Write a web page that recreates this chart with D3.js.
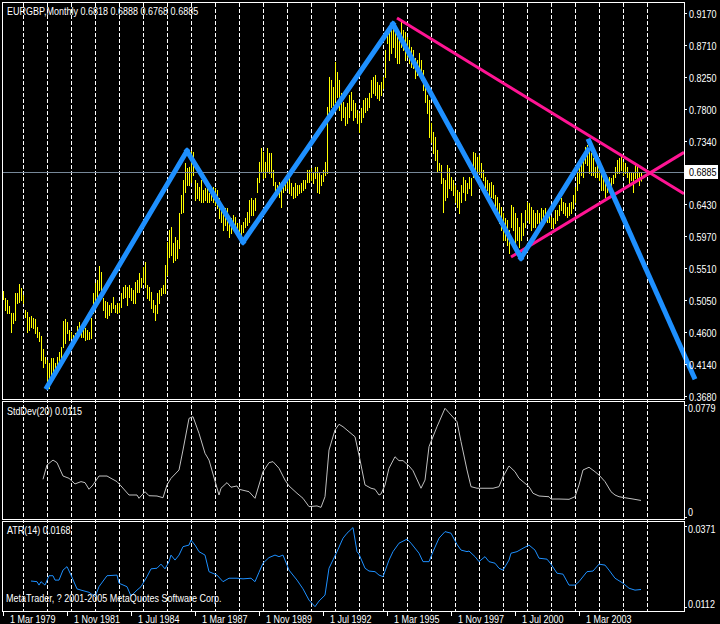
<!DOCTYPE html>
<html><head><meta charset="utf-8">
<script src="https://cdn.jsdelivr.net/npm/d3@7"></script>
<style>html,body{margin:0;padding:0;background:#000;overflow:hidden}svg{display:block}</style>
</head><body><svg id="c" width="720" height="624"></svg>
<script>
// ---------------- DATA ----------------
const symbolTitle = "EURGBP,Monthly";
const lastOHLC = [0.6818, 0.6888, 0.6768, 0.6885];
// monthly bars, starting Mar 1979 (index 0)
const highs = [
.5185,.5085,.5056,.4970,.4870,.4870,.5156,.5156,.5285,.5228,
.5128,.4913,.4884,.4812,.4827,.4798,.4784,.4669,.4597,.4540,
.4354,.4239,.4196,.4153,.4224,.4224,.4153,.4239,.4311,.4382,
.4755,.4784,.4741,.4626,.4597,.4554,.4583,.4683,.4741,.4669,
.4626,.4655,.4626,.4597,.4798,.5156,.5300,.5343,.5543,.5457,
.5085,.5042,.5027,.4984,.5013,.5099,.4984,.5013,.5013,.5156,
.5242,.5271,.5242,.5271,.5228,.5199,.5314,.5343,.5443,.5371,
.5529,.5601,.5271,.5242,.5171,.5056,.4984,.5156,.5199,.5228,
.5271,.5558,.5887,.6059,.6102,.5873,.5959,.5916,.6303,.6561,
.6776,.7020,.6948,.6963,.7192,.7178,.6776,.6733,.6676,.6776,
.6633,.6661,.6661,.6590,.6661,.6676,.6661,.6633,.6518,.6375,
.6346,.6375,.6375,.6246,.6231,.6274,.6246,.6160,.6160,.6131,
.6174,.6231,.6317,.6489,.6518,.6489,.6518,.6805,.7035,.7235,
.7178,.7035,.7235,.7163,.7163,.6920,.6747,.6704,.6747,.6747,
.6776,.6805,.6877,.6805,.6733,.6676,.6733,.6704,.6704,.6733,
.6776,.6776,.6920,.6920,.6948,.6877,.6963,.6963,.6877,.6848,
.6920,.7035,.7823,.8253,.8210,.8109,.8468,.8324,.8210,.8024,
.7895,.7823,.7880,.7995,.8038,.7923,.7880,.7780,.7737,.7809,
.7923,.7952,.7952,.8024,.8210,.8253,.8281,.8181,.8138,.8181,
.8253,.8640,.8955,.8926,.8969,.9027,.8926,.8826,.8883,.9041,
.8926,.8898,.8826,.8783,.8683,.8640,.8525,.8496,.8597,.8496,
.8353,.8109,.7995,.7923,.7594,.7465,.7393,.7207,.7020,.6991,
.6805,.6776,.6991,.6948,.6819,.6776,.6704,.6633,.6604,.6704,
.6819,.6776,.6733,.6819,.6805,.7178,.7163,.7106,.7135,.7020,
.6920,.6819,.6776,.6733,.6747,.6704,.6561,.6532,.6446,.6389,
.6303,.6231,.6203,.6059,.6418,.6389,.6303,.6231,.6102,.6303,
.6160,.6346,.6461,.6446,.6389,.6346,.6303,.6346,.6303,.6375,
.6346,.6375,.6274,.6317,.6246,.6231,.6346,.6346,.6418,.6518,
.6461,.6446,.6389,.6446,.6461,.6561,.6676,.6877,.6963,.7106,
.7092,.7250,.7278,.7207,.7163,.7092,.6963,.7035,.6963,.6877,
.6819,.6819,.6776,.6819,.6805,.6848,.6963,.7063,.7092,.7106,
.7035,.7020,.6963,.6891,.6891,.6877,.6991,.6963,.6877,.6888];
const lows = [
.5070,.4913,.4870,.4870,.4597,.4726,.4769,.5013,.5027,.5056,
.5013,.4812,.4597,.4626,.4669,.4655,.4583,.4526,.4468,.4196,
.4095,.4153,.3866,.3794,.3952,.4024,.4052,.4095,.4153,.4196,
.4382,.4440,.4583,.4483,.4511,.4440,.4483,.4526,.4583,.4526,
.4526,.4483,.4497,.4497,.4511,.4870,.4984,.5056,.5199,.5156,
.4913,.4812,.4798,.4841,.4884,.4941,.4884,.4870,.4884,.4956,
.5085,.5099,.4984,.5099,.5056,.5013,.5013,.5171,.5171,.5242,
.5314,.5242,.5085,.5056,.4941,.4884,.4769,.4870,.5013,.5128,
.5156,.5156,.5414,.5672,.5701,.5601,.5629,.5658,.5801,.6303,
.6317,.6604,.6704,.6704,.6747,.6848,.6489,.6518,.6489,.6461,
.6461,.6489,.6461,.6461,.6489,.6461,.6418,.6375,.6231,.6174,
.6059,.6131,.6059,.5959,.6016,.6059,.6102,.6031,.5959,.5988,
.6031,.6102,.6131,.6174,.6274,.6274,.6346,.6604,.6747,.6891,
.6805,.6819,.6891,.6877,.6819,.6704,.6590,.6561,.6532,.6389,
.6604,.6633,.6661,.6590,.6561,.6518,.6532,.6561,.6590,.6604,
.6633,.6661,.6747,.6747,.6776,.6733,.6805,.6604,.6590,.6704,
.6762,.6848,.6877,.7679,.7823,.7852,.7895,.7966,.7780,.7636,
.7679,.7565,.7594,.7679,.7780,.7636,.7679,.7594,.7465,.7608,
.7679,.7751,.7780,.7823,.7966,.8024,.7995,.7952,.7923,.7995,
.8095,.8253,.8740,.8496,.8597,.8683,.8539,.8453,.8453,.8683,
.8640,.8496,.8539,.8453,.8396,.8382,.8238,.8281,.8310,.8210,
.8066,.7895,.7737,.7393,.7321,.7163,.7063,.6891,.6920,.6733,
.6317,.6489,.6532,.6661,.6633,.6561,.6461,.6389,.6303,.6461,
.6604,.6489,.6590,.6661,.6561,.6819,.6891,.6848,.6877,.6819,
.6776,.6604,.6633,.6561,.6532,.6518,.6346,.6303,.6160,.6059,
.5916,.5916,.5844,.5730,.6102,.6059,.5873,.5916,.5816,.5916,
.5988,.6102,.6203,.6160,.6059,.6102,.6102,.6160,.6131,.6160,
.6231,.6246,.6174,.6174,.6102,.6088,.6160,.6203,.6274,.6346,
.6303,.6274,.6246,.6274,.6303,.6375,.6461,.6633,.6733,.6848,
.6819,.7020,.6991,.6877,.6848,.6848,.6819,.6819,.6776,.6633,
.6633,.6532,.6604,.6633,.6676,.6733,.6819,.6877,.6877,.6920,
.6848,.6877,.6819,.6733,.6776,.6604,.6805,.6776,.6704,.6768];

const priceTicks = [0.9170,0.8710,0.8250,0.7800,0.7340,0.6430,0.5970,0.5510,0.5050,0.4600,0.4140,0.3680];
const priceMin = 0.3680, priceMax = 0.9170;

const stdMonths = [20,22,25,27,30,33,36,39,41,43,45,48,52,54,57,59,63,67,68,71,73,77,80,82,84,88,90,93,95,98,101,103,108,109,112,114,117,118,123,126,130,133,135,138,141,143,147,150,153,157,159,161,163,166,168,170,173,176,178,181,184,186,188,189,191,193,196,198,200,203,205,209,211,213,217,221,223,227,229,232,234,237,240,245,248,250,253,256,258,261,263,265,268,273,274,278,283,286,288,290,293,296,298,301,304,306,308,311,315,319];
const stdValues = [.0262,.0362,.0396,.0378,.0285,.0269,.0230,.0246,.0239,.0193,.0223,.0285,.0285,.0269,.0246,.0216,.0153,.0153,.0130,.0176,.0148,.0146,.0134,.0223,.0269,.0327,.0466,.0686,.0698,.0582,.0443,.0396,.0153,.0200,.0239,.0207,.0216,.0193,.0176,.0130,.0315,.0378,.0385,.0339,.0257,.0216,.0165,.0130,.0072,.0077,.0067,.0141,.0466,.0605,.0645,.0628,.0593,.0558,.0431,.0223,.0200,.0193,.0153,.0160,.0223,.0339,.0419,.0392,.0392,.0355,.0322,.0200,.0257,.0489,.0628,.0756,.0725,.0663,.0524,.0327,.0211,.0200,.0200,.0200,.0211,.0280,.0355,.0315,.0269,.0234,.0211,.0165,.0146,.0141,.0125,.0125,.0123,.0141,.0223,.0327,.0346,.0315,.0292,.0246,.0176,.0153,.0141,.0134,.0125,.0115];
const stdScale = [0, 0.0779];

const atrMonths = [14,17,18,19,21,23,25,26,28,30,32,34,37,39,43,46,48,52,57,58,62,64,67,69,72,74,77,79,81,83,84,86,88,90,93,94,96,98,101,103,107,110,113,117,120,124,126,128,130,133,136,138,140,143,147,150,153,156,158,161,163,167,170,172,175,177,178,181,183,186,188,190,193,195,198,202,204,208,210,213,215,218,221,224,227,229,232,233,236,238,241,243,246,248,250,253,254,257,260,263,266,268,272,274,277,280,283,286,288,292,295,298,301,303,306,310,313,316,319];
const atrValues = [.0195,.0193,.0182,.0193,.0182,.0212,.0212,.0198,.0198,.0230,.0241,.0214,.0170,.0166,.0159,.0145,.0177,.0212,.0214,.0188,.0177,.0147,.0166,.0177,.0209,.0234,.0236,.0249,.0234,.0257,.0278,.0262,.0278,.0305,.0310,.0326,.0310,.0289,.0278,.0225,.0214,.0193,.0204,.0204,.0202,.0204,.0193,.0223,.0252,.0270,.0278,.0273,.0278,.0230,.0198,.0170,.0134,.0113,.0131,.0150,.0236,.0289,.0332,.0348,.0366,.0289,.0281,.0236,.0227,.0225,.0214,.0209,.0262,.0289,.0316,.0329,.0316,.0284,.0257,.0257,.0289,.0332,.0353,.0348,.0312,.0294,.0289,.0291,.0273,.0257,.0273,.0257,.0252,.0236,.0230,.0262,.0284,.0289,.0300,.0310,.0294,.0268,.0265,.0249,.0220,.0217,.0182,.0182,.0193,.0225,.0227,.0249,.0246,.0230,.0204,.0188,.0172,.0166,.0168];
const atrScale = [0.0112, 0.0371];

const timeLabels = ["1 Mar 1979","1 Nov 1981","1 Jul 1984","1 Mar 1987","1 Nov 1989","1 Jul 1992","1 Mar 1995","1 Nov 1997","1 Jul 2000","1 Mar 2003"];
const timeLabelMonths = [0,32,64,96,128,160,192,224,256,288];
const gridYears = [1980,1981,1982,1983,1984,1985,1986,1987,1988,1989,1990,1991,1992,1993,1994,1995,1996,1997,1998,1999,2000,2001,2002,2003,2004,2005,2006];

// zigzag segments: [startMonth, startPrice, endMonth, endPrice]
const zigzagStartMonths = [22, 92, 120, 195, 259, 293];
const zigzagStartPrices = [.3809, .7192, .5887, .9012, .5658, .7335];
const zigzagEndMonths   = [92, 120, 195, 259, 292.5, 345.5];
const zigzagEndPrices   = [.7192, .5887, .9012, .5658, .7207, .3952];

const trendA = {months:[197, 323.5], prices:[.9098, .6877]};
const trendB = {months:[254, 323.5], prices:[.5672, .6877]};

// ---------------- DRAW ----------------
const svg = d3.select("#c");
svg.append("rect").attr("width",720).attr("height",624).attr("fill","#000");

const L = 2, R = 684;
const x = d3.scaleLinear().domain([0, 319]).range([3, 641]);
const y = d3.scaleLinear().domain([priceMin, priceMax]).range([396, 13]);
const yS = d3.scaleLinear().domain(stdScale).range([517, 405]);
const yA = d3.scaleLinear().domain(atrScale).range([607, 526]);
const monthOfYearJan = yr => (yr - 1979) * 12 - 2;

const FONT = "'Liberation Sans', Arial, sans-serif";
function txt(str, tx, ty, opts={}) {
  const g = svg.append("g").attr("transform", `translate(${tx},${ty}) scale(0.82,1)`);
  return g.append("text").attr("x", 0).attr("y", 0)
    .attr("fill", opts.fill || "#fff").attr("font-family", FONT)
    .attr("font-size", 11).text(str);
}

// grid
svg.append("g").selectAll("line").data(gridYears).join("line")
  .attr("x1", d => x(monthOfYearJan(d)) + 0.5).attr("x2", d => x(monthOfYearJan(d)) + 0.5)
  .attr("y1", 3).attr("y2", 611)
  .attr("stroke", "#fff").attr("stroke-width", 1).attr("stroke-dasharray", "4,2");

// bars
svg.append("g").selectAll("line").data(highs).join("line")
  .attr("x1", (d,i) => x(i) + 0.5).attr("x2", (d,i) => x(i) + 0.5)
  .attr("y1", d => y(d)).attr("y2", (d,i) => y(lows[i]) + 1)
  .attr("stroke", "#ffff00").attr("stroke-width", 1);

// bid line
const bidY = Math.round(y(lastOHLC[3])) + 0.5;
svg.append("line").attr("x1", L).attr("x2", R).attr("y1", bidY).attr("y2", bidY)
  .attr("stroke", "#778899").attr("stroke-width", 1);

// trend lines (rays to the right edge of the plot)
function ray(t) {
  const slope = (t.prices[1] - t.prices[0]) / (t.months[1] - t.months[0]);
  const mEnd = x.invert(R);
  const pEnd = t.prices[0] + slope * (mEnd - t.months[0]);
  svg.append("line").attr("x1", x(t.months[0])).attr("y1", y(t.prices[0]))
    .attr("x2", x(mEnd)).attr("y2", y(pEnd))
    .attr("stroke", "#ff1493").attr("stroke-width", 3);
}
ray(trendA); ray(trendB);

// zigzag
svg.append("g").selectAll("line").data(zigzagStartMonths).join("line")
  .attr("x1", (d) => x(d)).attr("y1", (d,k) => y(zigzagStartPrices[k]))
  .attr("x2", (d,k) => x(zigzagEndMonths[k])).attr("y2", (d,k) => y(zigzagEndPrices[k]))
  .attr("stroke", "#1e90ff").attr("stroke-width", 5).attr("stroke-linecap", "square");

// std line
svg.append("path").datum(stdMonths.map((m,i)=>[m, stdValues[i]]))
  .attr("d", d3.line().x(d => x(d[0])).y(d => yS(d[1])))
  .attr("fill", "none").attr("stroke", "#c0c0c0").attr("stroke-width", 1);

// atr line
svg.append("path").datum(atrMonths.map((m,i)=>[m, atrValues[i]]))
  .attr("d", d3.line().x(d => x(d[0])).y(d => yA(d[1])))
  .attr("fill", "none").attr("stroke", "#1e90ff").attr("stroke-width", 1);

// frames
const fr = svg.append("g").attr("stroke", "#fff").attr("stroke-width", 1).attr("fill", "none");
fr.append("rect").attr("x", L + 0.5).attr("y", 2.5).attr("width", R - L).attr("height", 397);
fr.append("rect").attr("x", L + 0.5).attr("y", 401.5).attr("width", R - L).attr("height", 118);
fr.append("rect").attr("x", L + 0.5).attr("y", 521.5).attr("width", R - L).attr("height", 90);

// price axis
priceTicks.forEach(p => {
  const py = Math.round(y(p)) + 0.5;
  svg.append("line").attr("x1", R).attr("x2", R + 3).attr("y1", py).attr("y2", py).attr("stroke", "#fff");
  txt(d3.format(".4f")(p), 689, py + 4);
});
// current price box
svg.append("rect").attr("x", R + 1.5).attr("y", bidY - 7).attr("width", 32).attr("height", 13)
  .attr("fill", "#fff").attr("stroke", "#fff");
txt(d3.format(".4f")(lastOHLC[3]), 689, bidY + 3.5, {fill: "#000"});

// subwindow scales
[yS(stdScale[1]), yS(0), yA(atrScale[1]), yA(atrScale[0])].forEach(v => {
  const py = Math.round(v) + 0.5;
  svg.append("line").attr("x1", R).attr("x2", R + 3).attr("y1", py).attr("y2", py).attr("stroke", "#fff");
});
txt(d3.format(".4f")(stdScale[1]), 688, 412);
txt("0", 688, 516);
txt(d3.format(".4f")(atrScale[1]), 688, 533);
txt(d3.format(".4f")(atrScale[0]), 688, 608);

// time axis
timeLabelMonths.forEach((m, i) => {
  const tx = x(m) + 0.5;
  svg.append("line").attr("x1", tx).attr("x2", tx).attr("y1", 611).attr("y2", 616).attr("stroke", "#fff");
  txt(timeLabels[i], x(m) + 7, 623);
});

// captions
txt(symbolTitle + "  " + lastOHLC.map(d3.format(".4f")).join(" "), 7, 15);
txt("StdDev(20) " + d3.format(".4f")(stdValues[stdValues.length-1]), 7, 415);
txt("ATR(14) " + d3.format(".4f")(atrValues[atrValues.length-1]), 7, 534);
txt("MetaTrader, ? 2001-2005 MetaQuotes Software Corp.", 6, 602);
</script></body></html>
